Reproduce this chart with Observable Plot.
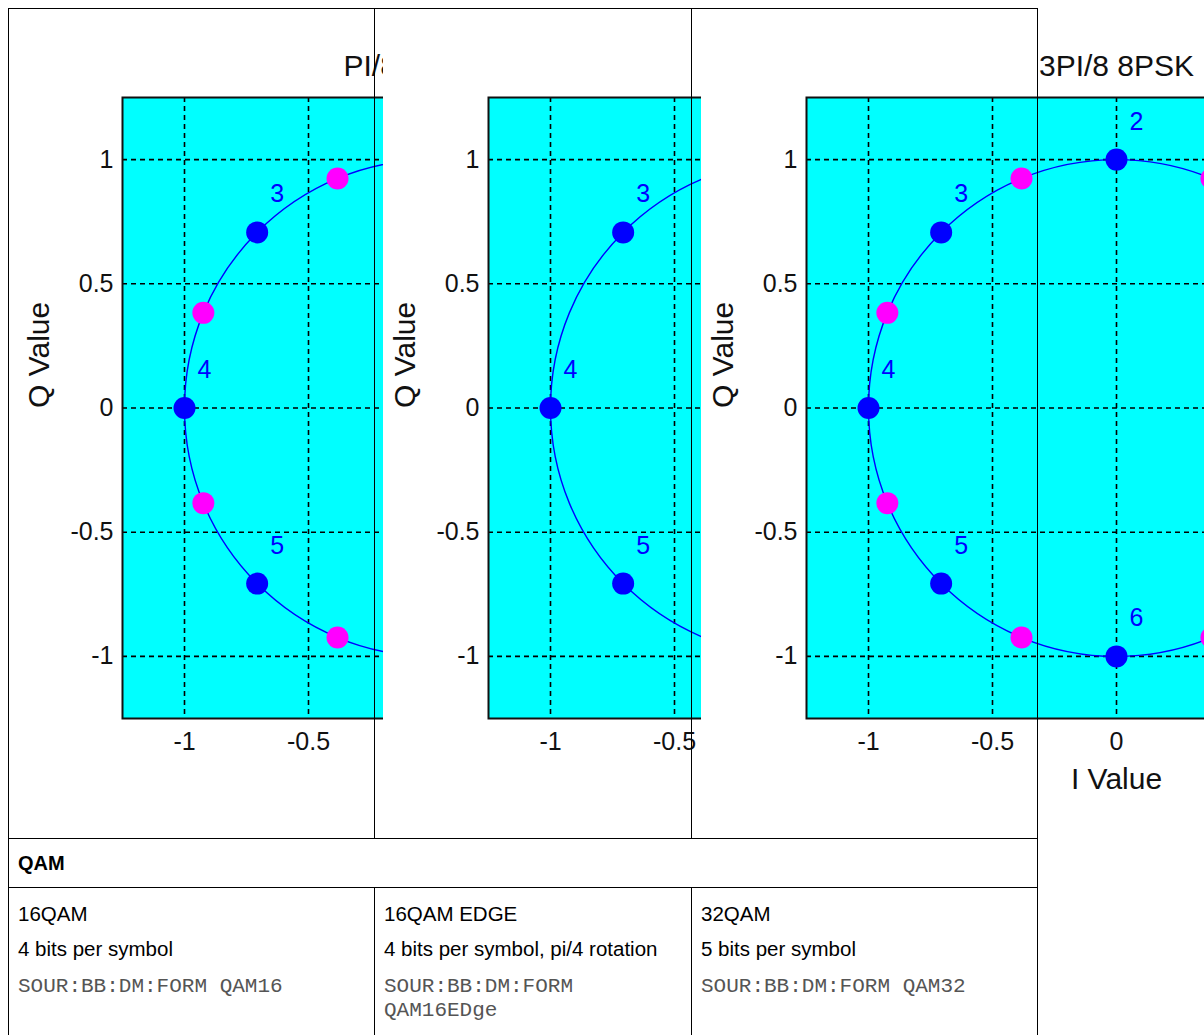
<!DOCTYPE html>
<html>
<head>
<meta charset="utf-8">
<script src="https://cdn.jsdelivr.net/npm/d3@7"></script>
<script src="https://cdn.jsdelivr.net/npm/@observablehq/plot@0.6"></script>
<style>
  html, body { margin: 0; padding: 0; background: #fff; overflow: hidden; }
  #page { position: relative; width: 1204px; height: 1035px; overflow: hidden; font-family: "Liberation Sans", Arial, sans-serif; }
  .img { position: absolute; top: 9px; height: 826px; overflow: hidden; background: #fff; }
  .img svg { max-width: none !important; width: 800px !important; height: 820px !important; display: block; }
  .hl, .vl { position: absolute; background: #000; z-index: 10; }
  .hl { height: 1px; }
  .vl { width: 1px; }
  .txt { position: absolute; white-space: nowrap; color: #000; }
  .sans { font-family: "Liberation Sans", Arial, sans-serif; font-size: 20.5px; line-height: 24px; }
  .bold { font-family: "Liberation Sans", Arial, sans-serif; font-size: 20px; font-weight: bold; line-height: 22px; }
  .mono { font-family: "Liberation Mono", "Courier New", monospace; font-size: 21px; line-height: 24px; color: #555; white-space: normal; width: 300px; }
</style>
</head>
<body>
<div id="page"></div>
<script>
// ---- data ----
const xTicks = [-1, -0.5, 0, 0.5, 1];
const yTicks = [-1, -0.5, 0, 0.5, 1];
const blueI = [1, 0.707, 0, -0.707, -1, -0.707, 0, 0.707];
const blueQ = [0, 0.707, 1, 0.707, 0, -0.707, -1, -0.707];
const blueLabels = ["0", "1", "2", "3", "4", "5", "6", "7"];
const magentaI = [0.924, 0.383, -0.383, -0.924, -0.924, -0.383, 0.383, 0.924];
const magentaQ = [0.383, 0.924, 0.924, 0.383, -0.383, -0.924, -0.924, -0.383];
const chartTitles = ["PI/8 D8PSK", "", "3PI/8 8PSK"];
const chartHasMagenta = [true, false, true];
const groupTitle = "QAM";
const schemeNames = ["16QAM", "16QAM EDGE", "32QAM"];
const schemeDescriptions = ["4 bits per symbol", "4 bits per symbol, pi/4 rotation", "5 bits per symbol"];
const schemeCommands = ["SOUR:BB:DM:FORM QAM16", "SOUR:BB:DM:FORM QAM16EDge", "SOUR:BB:DM:FORM QAM32"];

// ---- derived tables ----
const bluePts = blueI.map((v, i) => ({I: v, Q: blueQ[i], label: blueLabels[i]}));
const magentaPts = magentaI.map((v, i) => ({I: v, Q: magentaQ[i]}));
const pathPts = bluePts.flatMap((b, i) => [b, magentaPts[i]]);

const page = document.getElementById("page");
const colLeft = [8, 374, 691];
const tableRight = 1037;
const imgLeft = [17, 383, 701];
const imgRight = [383, 701, 1204];
const titleShift = [-9, 0, 0];

function chart(k) {
  const marks = [
    Plot.frame({fill: "#00FFFF"}),
    Plot.ruleX(xTicks, {stroke: "black", strokeWidth: 1.6, strokeDasharray: "5,4"}),
    Plot.ruleY(yTicks, {stroke: "black", strokeWidth: 1.6, strokeDasharray: "5,4"}),
    Plot.line(pathPts, {x: "I", y: "Q", curve: "catmull-rom-closed", stroke: "#0000FF", strokeWidth: 1.4}),
    Plot.dot(bluePts, {x: "I", y: "Q", r: 11, fill: "#0000FF"}),
    Plot.text(bluePts, {x: "I", y: "Q", text: "label", dx: 20, dy: -38, fill: "#0000FF", fontSize: 25}),
    Plot.frame({stroke: "#111", strokeWidth: 2}),
    Plot.axisX(xTicks, {tickSize: 0, tickPadding: 14, tickFormat: d => String(d), fontSize: 25, label: null}),
    Plot.axisY(yTicks, {tickSize: 0, tickPadding: 9, tickFormat: d => String(d), fontSize: 25, label: null}),
    Plot.text(["I Value"], {frameAnchor: "bottom", lineAnchor: "middle", dy: 61, fontSize: 30}),
    Plot.text(["Q Value"], {frameAnchor: "left", lineAnchor: "middle", dx: -83, rotate: -90, fontSize: 30})
  ];
  if (chartHasMagenta[k]) marks.splice(5, 0, Plot.dot(magentaPts, {x: "I", y: "Q", r: 11, fill: "#FF00FF"}));
  if (chartTitles[k]) marks.push(Plot.text([chartTitles[k]], {frameAnchor: "top", lineAnchor: "middle", dx: titleShift[k], dy: -31, fontSize: 30}));
  return Plot.plot({
    width: 800,
    height: 820,
    marginLeft: 105,
    marginRight: 75,
    marginTop: 88,
    marginBottom: 111,
    x: {domain: [-1.25, 1.25], label: null},
    y: {domain: [-1.25, 1.25], label: null},
    style: {fontFamily: "'Liberation Sans', Arial, sans-serif", fontSize: "25px", background: "white", color: "#111", maxWidth: "none"},
    marks
  });
}

for (let k = 0; k < 3; k++) {
  const d = document.createElement("div");
  d.className = "img";
  d.style.left = imgLeft[k] + "px";
  d.style.width = (imgRight[k] - imgLeft[k]) + "px";
  d.style.zIndex = k + 1;
  d.appendChild(chart(k));
  page.appendChild(d);
}

function line(cls, left, top, len) {
  const e = document.createElement("div");
  e.className = cls;
  e.style.left = left + "px";
  e.style.top = top + "px";
  if (cls === "hl") e.style.width = len + "px"; else e.style.height = len + "px";
  page.appendChild(e);
}
// table borders
line("hl", 8, 8, tableRight - 8 + 1);
line("hl", 8, 838, tableRight - 8 + 1);
line("hl", 8, 887, tableRight - 8 + 1);
line("vl", 8, 8, 1100);
line("vl", tableRight, 8, 1100);
line("vl", 374, 8, 830);
line("vl", 691, 8, 830);
line("vl", 374, 887, 300);
line("vl", 691, 887, 300);

function text(cls, left, top, str) {
  const e = document.createElement("div");
  e.className = "txt " + cls;
  e.style.left = left + "px";
  e.style.top = top + "px";
  e.textContent = str;
  page.appendChild(e);
}
text("bold", 18, 852, groupTitle);
for (let k = 0; k < 3; k++) {
  const x = colLeft[k] + 10;
  text("sans", x, 902, schemeNames[k]);
  text("sans", x, 937, schemeDescriptions[k]);
  text("mono", x, 975, schemeCommands[k]);
}
</script>
</body>
</html>
